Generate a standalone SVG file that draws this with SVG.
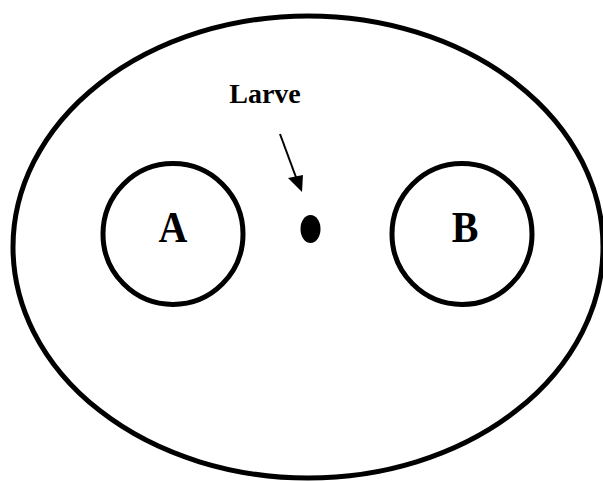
<svg xmlns="http://www.w3.org/2000/svg" width="603" height="481" viewBox="0 0 603 481">
<defs>
<style>
.ring{fill:none;stroke:#000;stroke-width:5}
.lbl{font-family:"Liberation Serif","Times New Roman",serif;font-weight:bold;fill:#000}
</style>
<marker id="ah" markerWidth="8" markerHeight="8" refX="7" refY="4" orient="auto" markerUnits="userSpaceOnUse" viewBox="0 0 8 8">
<path d="M0,0 L8,4 L0,8 Z" fill="#000"/>
</marker>
</defs>
<rect width="603" height="481" fill="#fff"/>
<g id="outer"><ellipse class="ring" cx="308" cy="247" rx="295" ry="231"/></g>
<g id="A">
<ellipse class="ring" cx="173" cy="234" rx="70" ry="70.5"/>
<text class="lbl" font-size="40" text-anchor="middle" transform="translate(173,242) scale(1,1.1)">A</text>
</g>
<g id="B">
<ellipse class="ring" cx="462" cy="234" rx="70" ry="70.5"/>
<text class="lbl" font-size="40" text-anchor="middle" transform="translate(465,242) scale(1,1.1)">B</text>
</g>
<g id="larve">
<ellipse cx="310.5" cy="229" rx="10" ry="14" fill="#000"/>
<text class="lbl" font-size="28" x="265" y="103" text-anchor="middle">Larve</text>
</g>
<g id="connectors">
<path d="M280,134 L297,180" stroke="#000" stroke-width="2"/>
<path d="M288,178 L302,192 L303,175 Z" fill="#000"/>
</g>
</svg>
